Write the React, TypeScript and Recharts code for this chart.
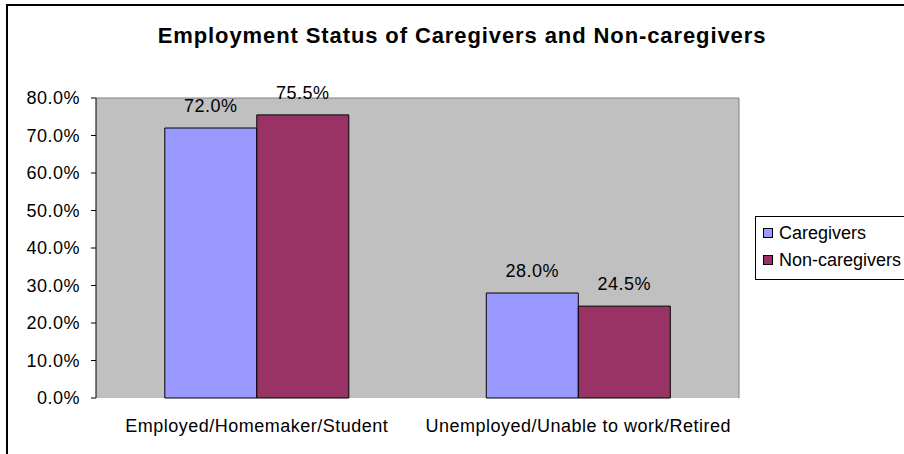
import { Bar, BarChart, CartesianGrid, LabelList, XAxis, YAxis } from "recharts";

const categories = ["Employed/Homemaker/Student", "Unemployed/Unable to work/Retired"];
const caregivers = [72.0, 28.0];
const nonCaregivers = [75.5, 24.5];
const yTicks = [0, 10, 20, 30, 40, 50, 60, 70, 80];
const seriesNames = ["Caregivers", "Non-caregivers"];
const seriesColors = ["#9999ff", "#993366"];

const chartData = categories.map((name, i) => ({
  name,
  pos: i + 0.5,
  caregivers: caregivers[i],
  nonCaregivers: nonCaregivers[i]
}));

const font = '"Liberation Sans", Arial, sans-serif';
const pct = (v: number) => `${Number(v).toFixed(1)}%`;
const textStyle = { fill: "#000", fontSize: 18, fontFamily: font, letterSpacing: 0.5 };

export default function App() {
  return (
    <div
      style={{
        position: "absolute",
        left: 0,
        top: 0,
        width: 904,
        height: 454,
        overflow: "hidden",
        background: "#fff",
        fontFamily: font
      }}
    >
      <div
        style={{
          position: "absolute",
          left: 6,
          top: 4,
          width: 920,
          height: 470,
          border: "2px solid #000"
        }}
      />
      <div
        style={{
          position: "absolute",
          left: 0,
          width: 924,
          top: 25,
          textAlign: "center",
          fontSize: 22,
          lineHeight: "22px",
          fontWeight: "bold",
          letterSpacing: 0.9,
          color: "#000"
        }}
      >
        Employment Status of Caregivers and Non-caregivers
      </div>

      <div style={{ position: "absolute", left: 0, top: 0 }}>
        <BarChart
          width={904}
          height={454}
          data={chartData}
          margin={{ top: 98, right: 165, bottom: 0, left: 0 }}
          barCategoryGap="21.4%"
          barGap={0}
        >
          <CartesianGrid
            fill="#c0c0c0"
            stroke="#808080"
            horizontalCoordinatesGenerator={({ offset }: any) => [offset.top]}
            verticalCoordinatesGenerator={({ offset }: any) => [offset.left + offset.width]}
          />
          <XAxis
            xAxisId="edges"
            type="number"
            dataKey="pos"
            domain={[0, categories.length]}
            ticks={categories.map((_, i) => i).concat(categories.length)}
            tick={false}
            height={0}
            tickSize={5}
            stroke="#000"
            axisLine={{ stroke: "#000" }}
            tickLine={{ stroke: "#000" }}
          />
          <XAxis
            xAxisId="cat"
            dataKey="name"
            height={56}
            axisLine={false}
            tickLine={false}
            tickSize={0}
            tickMargin={21}
            tick={textStyle}
          />
          <YAxis
            domain={[0, 80]}
            ticks={yTicks}
            width={96}
            tickFormatter={pct}
            tickSize={5}
            tickMargin={11}
            axisLine={{ stroke: "#000" }}
            tickLine={{ stroke: "#000" }}
            tick={textStyle}
          />
          <Bar
            xAxisId="cat"
            dataKey="caregivers"
            name={seriesNames[0]}
            fill={seriesColors[0]}
            stroke="#000"
            strokeWidth={1}
            isAnimationActive={false}
          >
            <LabelList
              dataKey="caregivers"
              position="top"
              offset={16}
              formatter={(v: any) => pct(v)}
              style={textStyle}
            />
          </Bar>
          <Bar
            xAxisId="cat"
            dataKey="nonCaregivers"
            name={seriesNames[1]}
            fill={seriesColors[1]}
            stroke="#000"
            strokeWidth={1}
            isAnimationActive={false}
          >
            <LabelList
              dataKey="nonCaregivers"
              position="top"
              offset={16}
              formatter={(v: any) => pct(v)}
              style={textStyle}
            />
          </Bar>
        </BarChart>
      </div>

      <div
        style={{
          position: "absolute",
          left: 755,
          top: 216,
          width: 160,
          height: 62,
          border: "1px solid #000",
          background: "#fff"
        }}
      >
        {seriesNames.map((name, i) => (
          <div
            key={name}
            style={{
              position: "absolute",
              left: 7,
              top: 5 + i * 27,
              height: 22,
              display: "flex",
              alignItems: "center",
              fontSize: 18,
              letterSpacing: 0,
              whiteSpace: "nowrap"
            }}
          >
            <span
              style={{
                display: "inline-block",
                width: 8,
                height: 8,
                border: "1px solid #000",
                background: seriesColors[i],
                marginRight: 6
              }}
            />
            {name}
          </div>
        ))}
      </div>
    </div>
  );
}
